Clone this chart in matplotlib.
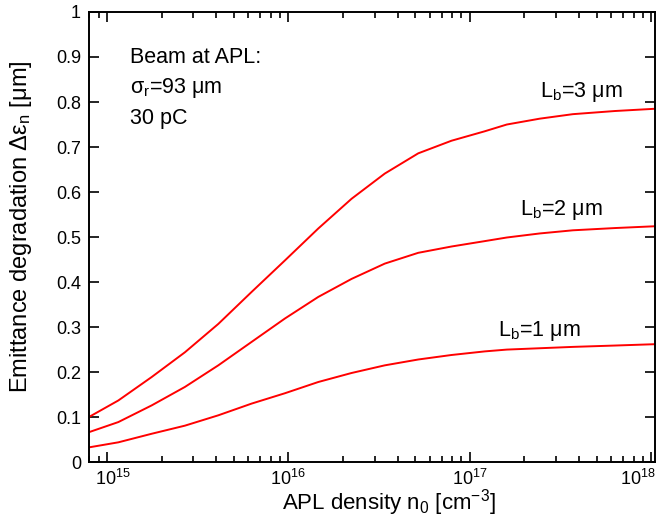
import numpy as np
import matplotlib
matplotlib.use("Agg")
import matplotlib.pyplot as plt
import matplotlib.transforms as mtransforms
from matplotlib.ticker import LogLocator, FixedLocator, FuncFormatter, NullFormatter, LogFormatterSciNotation

plt.rcParams['font.family'] = ['Liberation Sans', 'DejaVu Sans']
plt.rcParams['mathtext.fontset'] = 'custom'
plt.rcParams['mathtext.rm'] = 'Liberation Sans'
plt.rcParams['mathtext.it'] = 'Liberation Sans:italic'

# plasma density [cm^-3]
density = [8.02e14, 1.156e15, 1.764e15, 2.69e15, 4.11e15, 6.27e15, 9.57e15, 1.462e16, 2.23e16,
           3.40e16, 5.20e16, 7.93e16, 1.21e17, 1.60e17, 2.43e17, 3.70e17, 6.31e17, 1.05e18]

# emittance degradation [um] for each bunch length
emit_lb3 = [0.101, 0.137, 0.189, 0.244, 0.307, 0.378, 0.448, 0.519, 0.585,
            0.641, 0.686, 0.714, 0.735, 0.750, 0.763, 0.773, 0.780, 0.785]
emit_lb2 = [0.067, 0.089, 0.126, 0.167, 0.215, 0.267, 0.319, 0.367, 0.407,
            0.441, 0.465, 0.479, 0.491, 0.499, 0.508, 0.515, 0.520, 0.524]
emit_lb1 = [0.033, 0.044, 0.063, 0.081, 0.104, 0.130, 0.153, 0.178, 0.198,
            0.215, 0.228, 0.238, 0.246, 0.250, 0.253, 0.256, 0.259, 0.262]

curve_labels = [r'L$_\mathrm{b}$=3 μm', r'L$_\mathrm{b}$=2 μm', r'L$_\mathrm{b}$=1 μm']
label_pos = [(2.43e17, 0.812), (1.89e17, 0.548), (1.43e17, 0.281)]

x_ticks = [1e15, 1e16, 1e17, 1e18]
y_ticks = [0, 0.1, 0.2, 0.3, 0.4, 0.5, 0.6, 0.7, 0.8, 0.9, 1.0]

fig = plt.figure(figsize=(6.57, 5.21), dpi=100)
ax = fig.add_axes([0.136, 0.113, 0.861, 0.864])

for ys in (emit_lb3, emit_lb2, emit_lb1):
    ax.plot(density, ys, color='red', lw=1.4, solid_joinstyle='round')

for lab, (xp, yp) in zip(curve_labels, label_pos):
    ax.text(xp, yp, lab, fontsize=15.5, va='baseline', ha='left')

# beam info box
info = ['Beam at APL:', r'σ$_\mathrm{r}$=93 μm', '30 pC']
for i, line in enumerate(info):
    ax.text(1.34e15, 0.886 - i * 0.067, line, fontsize=15.5, va='baseline', ha='left')

ax.set_xscale('log')
ax.set_xlim(8.0e14, 1.05e18)
ax.set_ylim(0, 1)

ax.xaxis.set_major_locator(FixedLocator(x_ticks))
ax.xaxis.set_major_formatter(LogFormatterSciNotation())
ax.xaxis.set_minor_locator(LogLocator(base=10, subs=np.arange(2, 10), numticks=20))
ax.xaxis.set_minor_formatter(NullFormatter())
ax.yaxis.set_major_locator(FixedLocator(y_ticks))
ax.yaxis.set_major_formatter(FuncFormatter(lambda v, p: f'{v:g}'))

ax.tick_params(which='both', direction='in', top=True, right=True, width=1.2)
ax.tick_params(which='major', length=7, labelsize=13, pad=6)
ax.tick_params(axis='x', which='major', pad=5)
ax.tick_params(which='minor', length=4)
for s in ax.spines.values():
    s.set_linewidth(1.4)

ax.set_xlabel(r'APL density n$_\mathrm{0}$ [cm$^\mathrm{-3}$]', fontsize=16)
ax.xaxis.set_label_coords(0.53, -0.056)
ax.set_ylabel(r'Emittance degradation Δε$_\mathrm{n}$ [μm]', fontsize=17)
ax.yaxis.set_label_coords(-0.098, 0.524)

# nudge the end tick labels so they stay inside the figure
fig.canvas.draw()
xlabels = ax.get_xticklabels()
xlabels[0].set_transform(xlabels[0].get_transform() +
                         mtransforms.ScaledTranslation(6 / 100, 0, fig.dpi_scale_trans))
xlabels[-1].set_horizontalalignment('right')
xlabels[-1].set_transform(xlabels[-1].get_transform() +
                          mtransforms.ScaledTranslation(4 / 100, 0, fig.dpi_scale_trans))

fig.savefig('out.png', dpi=100)
